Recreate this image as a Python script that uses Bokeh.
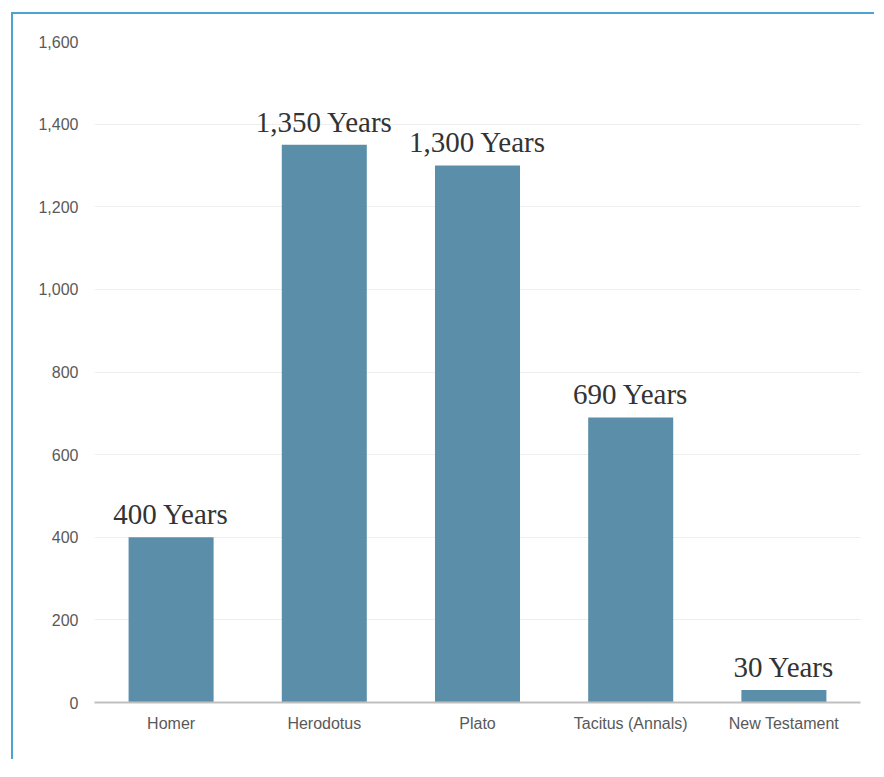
from bokeh.plotting import figure
from bokeh.models import ColumnDataSource, NumeralTickFormatter, FixedTicker
from bokeh.embed import file_html
from bokeh.resources import INLINE
from bokeh.core.properties import value

categories = ["Homer", "Herodotus", "Plato", "Tacitus (Annals)", "New Testament"]
years = [400, 1350, 1300, 690, 30]
labels = ["400 Years", "1,350 Years", "1,300 Years", "690 Years", "30 Years"]
y_ticks = [0, 200, 400, 600, 800, 1000, 1200, 1400, 1600]

src = ColumnDataSource(dict(cat=categories, val=years, lab=labels))

p = figure(x_range=categories, y_range=(0, 1600), width=863, height=747,
           output_backend="svg", toolbar_location=None,
           min_border_left=81, min_border_right=16, min_border_top=27, min_border_bottom=59)
p.styles = {"border-left": "2px solid #4BA3CF", "border-top": "2px solid #4BA3CF",
            "margin-left": "11px", "margin-top": "12px"}

p.vbar(x="cat", top="val", width=0.555, source=src, color="#5B8FA9", line_color=None)
p.text(x="cat", y="val", text="lab", source=src, text_align="center", text_baseline="bottom",
       y_offset=-7, text_font=value("Liberation Serif"), text_font_size="29px", text_color="#333333")

p.outline_line_color = None
p.background_fill_color = "white"
p.border_fill_color = "white"

p.yaxis.ticker = FixedTicker(ticks=y_ticks)
p.yaxis.formatter = NumeralTickFormatter(format="0,0")
p.yaxis.axis_line_color = None
p.yaxis.major_tick_line_color = None
p.yaxis.minor_tick_line_color = None
p.yaxis.major_label_text_font = "Liberation Sans"
p.yaxis.major_label_text_font_size = "16px"
p.yaxis.major_label_text_color = "#595959"
p.yaxis.major_label_standoff = 10

p.xaxis.axis_line_color = "#BFBFBF"
p.xaxis.axis_line_width = 2
p.xaxis.major_tick_line_color = None
p.xaxis.minor_tick_line_color = None
p.xaxis.major_label_text_font = "Liberation Sans"
p.xaxis.major_label_text_font_size = "16px"
p.xaxis.major_label_text_color = "#595959"
p.xaxis.major_label_standoff = 6

p.xgrid.grid_line_color = None
p.ygrid.grid_line_color = "#EEEEEE"
p.ygrid.grid_line_width = 1

open("out.html", "w").write(file_html(p, INLINE))
